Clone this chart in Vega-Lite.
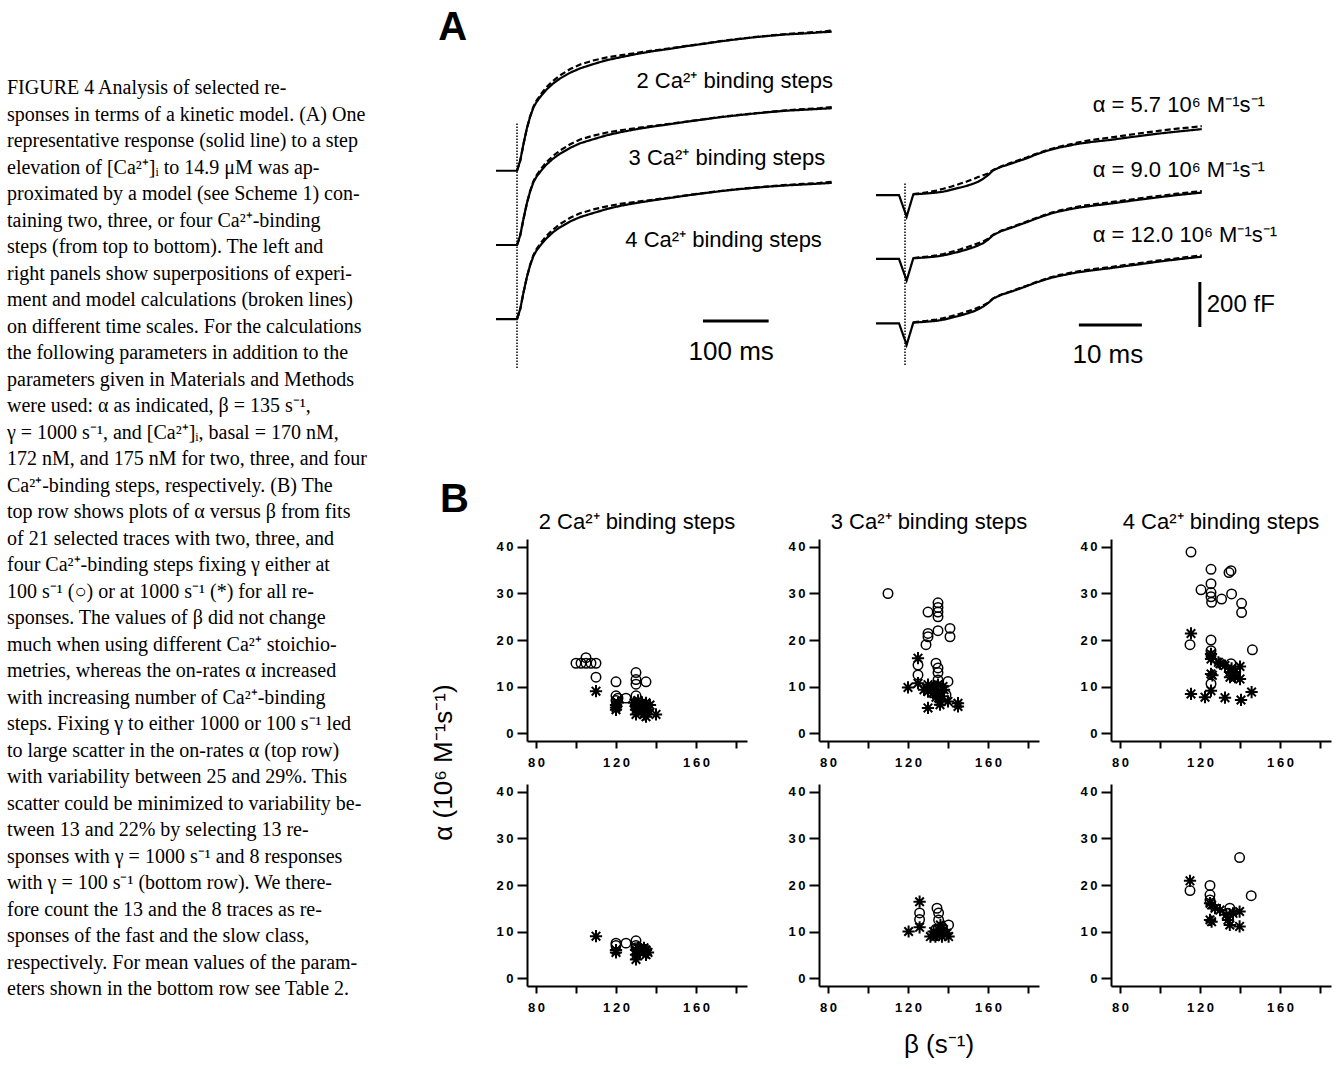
{
"$schema": "https://vega.github.io/schema/vega-lite/v6.json",
"background": "white",
"padding": 0,
"config": {
  "view": {"stroke": null},
  "font": "Liberation Sans",
  "axis": {"domainColor": "black", "domainWidth": 2, "tickColor": "black", "tickWidth": 2, "labelColor": "black", "labelFont": "Liberation Sans", "labelFontSize": 13, "labelFontWeight": "bold", "grid": false, "titleColor": "black", "titleFont": "Liberation Sans", "titleFontWeight": "normal", "labelFlush": false, "labelOverlap": false},
  "title": {"color": "black", "font": "Liberation Sans", "fontWeight": "normal"},
  "text": {"color": "black"}
},
"datasets": {
  "caption": [
    {"line": 1, "text": "FIGURE 4  Analysis of selected re-"},
    {"line": 2, "text": "sponses in terms of a kinetic model. (A) One"},
    {"line": 3, "text": "representative response (solid line) to a step"},
    {"line": 4, "text": "elevation of [Ca²⁺]ᵢ to 14.9 μM was ap-"},
    {"line": 5, "text": "proximated by a model (see Scheme 1) con-"},
    {"line": 6, "text": "taining two, three, or four Ca²⁺-binding"},
    {"line": 7, "text": "steps (from top to bottom). The left and"},
    {"line": 8, "text": "right panels show superpositions of experi-"},
    {"line": 9, "text": "ment and model calculations (broken lines)"},
    {"line": 10, "text": "on different time scales. For the calculations"},
    {"line": 11, "text": "the following parameters in addition to the"},
    {"line": 12, "text": "parameters given in Materials and Methods"},
    {"line": 13, "text": "were used: α as indicated, β = 135 s⁻¹,"},
    {"line": 14, "text": "γ = 1000 s⁻¹, and [Ca²⁺]ᵢ, basal = 170 nM,"},
    {"line": 15, "text": "172 nM, and 175 nM for two, three, and four"},
    {"line": 16, "text": "Ca²⁺-binding steps, respectively. (B) The"},
    {"line": 17, "text": "top row shows plots of α versus β from fits"},
    {"line": 18, "text": "of 21 selected traces with two, three, and"},
    {"line": 19, "text": "four Ca²⁺-binding steps fixing γ either at"},
    {"line": 20, "text": "100 s⁻¹ (○) or at 1000 s⁻¹ (*) for all re-"},
    {"line": 21, "text": "sponses. The values of β did not change"},
    {"line": 22, "text": "much when using different Ca²⁺ stoichio-"},
    {"line": 23, "text": "metries, whereas the on-rates α increased"},
    {"line": 24, "text": "with increasing number of Ca²⁺-binding"},
    {"line": 25, "text": "steps. Fixing γ to either 1000 or 100 s⁻¹ led"},
    {"line": 26, "text": "to large scatter in the on-rates α (top row)"},
    {"line": 27, "text": "with variability between 25 and 29%. This"},
    {"line": 28, "text": "scatter could be minimized to variability be-"},
    {"line": 29, "text": "tween 13 and 22% by selecting 13 re-"},
    {"line": 30, "text": "sponses with γ = 1000 s⁻¹ and 8 responses"},
    {"line": 31, "text": "with γ = 100 s⁻¹ (bottom row). We there-"},
    {"line": 32, "text": "fore count the 13 and the 8 traces as re-"},
    {"line": 33, "text": "sponses of the fast and the slow class,"},
    {"line": 34, "text": "respectively. For mean values of the param-"},
    {"line": 35, "text": "eters shown in the bottom row see Table 2."}
  ],
  "leftTraces": [
    {"s":2,"k":"experiment","t":-32,"c":659},{"s":2,"k":"experiment","t":0,"c":659},{"s":2,"k":"experiment","t":2,"c":677},{"s":2,"k":"experiment","t":5,"c":706},{"s":2,"k":"experiment","t":10,"c":780},{"s":2,"k":"experiment","t":15,"c":847},{"s":2,"k":"experiment","t":20,"c":899},{"s":2,"k":"experiment","t":25,"c":940},{"s":2,"k":"experiment","t":30,"c":966},{"s":2,"k":"experiment","t":37.5,"c":995},{"s":2,"k":"experiment","t":45,"c":1020},{"s":2,"k":"experiment","t":55,"c":1047},{"s":2,"k":"experiment","t":65,"c":1068},{"s":2,"k":"experiment","t":81,"c":1095},{"s":2,"k":"experiment","t":96,"c":1114},{"s":2,"k":"experiment","t":116,"c":1133},{"s":2,"k":"experiment","t":137,"c":1151},{"s":2,"k":"experiment","t":157,"c":1163},{"s":2,"k":"experiment","t":182,"c":1178},{"s":2,"k":"experiment","t":208,"c":1191},{"s":2,"k":"experiment","t":233,"c":1201},{"s":2,"k":"experiment","t":258,"c":1213},{"s":2,"k":"experiment","t":284,"c":1223},{"s":2,"k":"experiment","t":309,"c":1234},{"s":2,"k":"experiment","t":334,"c":1243},{"s":2,"k":"experiment","t":360,"c":1252},{"s":2,"k":"experiment","t":385,"c":1259},{"s":2,"k":"experiment","t":410,"c":1265},{"s":2,"k":"experiment","t":436,"c":1269},{"s":2,"k":"experiment","t":461,"c":1274},{"s":2,"k":"experiment","t":479,"c":1277},
    {"s":2,"k":"model","t":0,"c":659},{"s":2,"k":"model","t":2,"c":677},{"s":2,"k":"model","t":5,"c":704},{"s":2,"k":"model","t":10,"c":779},{"s":2,"k":"model","t":15,"c":847},{"s":2,"k":"model","t":20,"c":901},{"s":2,"k":"model","t":25,"c":944},{"s":2,"k":"model","t":30,"c":972},{"s":2,"k":"model","t":37.5,"c":1004},{"s":2,"k":"model","t":45,"c":1031},{"s":2,"k":"model","t":55,"c":1059},{"s":2,"k":"model","t":65,"c":1082},{"s":2,"k":"model","t":81,"c":1111},{"s":2,"k":"model","t":96,"c":1131},{"s":2,"k":"model","t":116,"c":1149},{"s":2,"k":"model","t":137,"c":1163},{"s":2,"k":"model","t":157,"c":1172},{"s":2,"k":"model","t":182,"c":1183},{"s":2,"k":"model","t":208,"c":1194},{"s":2,"k":"model","t":233,"c":1203},{"s":2,"k":"model","t":258,"c":1214},{"s":2,"k":"model","t":284,"c":1224},{"s":2,"k":"model","t":309,"c":1235},{"s":2,"k":"model","t":334,"c":1244},{"s":2,"k":"model","t":360,"c":1253},{"s":2,"k":"model","t":385,"c":1260},{"s":2,"k":"model","t":410,"c":1267},{"s":2,"k":"model","t":436,"c":1272},{"s":2,"k":"model","t":461,"c":1277},{"s":2,"k":"model","t":479,"c":1282},
    {"s":3,"k":"experiment","t":-32,"c":329},{"s":3,"k":"experiment","t":0,"c":329},{"s":3,"k":"experiment","t":2,"c":345},{"s":3,"k":"experiment","t":5,"c":374},{"s":3,"k":"experiment","t":10,"c":447},{"s":3,"k":"experiment","t":15,"c":514},{"s":3,"k":"experiment","t":20,"c":567},{"s":3,"k":"experiment","t":25,"c":608},{"s":3,"k":"experiment","t":30,"c":634},{"s":3,"k":"experiment","t":37.5,"c":662},{"s":3,"k":"experiment","t":45,"c":687},{"s":3,"k":"experiment","t":55,"c":713},{"s":3,"k":"experiment","t":65,"c":734},{"s":3,"k":"experiment","t":81,"c":761},{"s":3,"k":"experiment","t":96,"c":781},{"s":3,"k":"experiment","t":116,"c":799},{"s":3,"k":"experiment","t":137,"c":817},{"s":3,"k":"experiment","t":157,"c":830},{"s":3,"k":"experiment","t":182,"c":844},{"s":3,"k":"experiment","t":208,"c":856},{"s":3,"k":"experiment","t":233,"c":866},{"s":3,"k":"experiment","t":258,"c":877},{"s":3,"k":"experiment","t":284,"c":887},{"s":3,"k":"experiment","t":309,"c":897},{"s":3,"k":"experiment","t":334,"c":905},{"s":3,"k":"experiment","t":360,"c":913},{"s":3,"k":"experiment","t":385,"c":920},{"s":3,"k":"experiment","t":410,"c":926},{"s":3,"k":"experiment","t":436,"c":930},{"s":3,"k":"experiment","t":461,"c":934},{"s":3,"k":"experiment","t":479,"c":937},
    {"s":3,"k":"model","t":0,"c":329},{"s":3,"k":"model","t":2,"c":345},{"s":3,"k":"model","t":5,"c":372},{"s":3,"k":"model","t":10,"c":446},{"s":3,"k":"model","t":15,"c":514},{"s":3,"k":"model","t":20,"c":569},{"s":3,"k":"model","t":25,"c":612},{"s":3,"k":"model","t":30,"c":640},{"s":3,"k":"model","t":37.5,"c":671},{"s":3,"k":"model","t":45,"c":698},{"s":3,"k":"model","t":55,"c":725},{"s":3,"k":"model","t":65,"c":748},{"s":3,"k":"model","t":81,"c":777},{"s":3,"k":"model","t":96,"c":798},{"s":3,"k":"model","t":116,"c":815},{"s":3,"k":"model","t":137,"c":829},{"s":3,"k":"model","t":157,"c":839},{"s":3,"k":"model","t":182,"c":849},{"s":3,"k":"model","t":208,"c":859},{"s":3,"k":"model","t":233,"c":868},{"s":3,"k":"model","t":258,"c":878},{"s":3,"k":"model","t":284,"c":888},{"s":3,"k":"model","t":309,"c":898},{"s":3,"k":"model","t":334,"c":906},{"s":3,"k":"model","t":360,"c":914},{"s":3,"k":"model","t":385,"c":921},{"s":3,"k":"model","t":410,"c":928},{"s":3,"k":"model","t":436,"c":933},{"s":3,"k":"model","t":461,"c":937},{"s":3,"k":"model","t":479,"c":942},
    {"s":4,"k":"experiment","t":-32,"c":0},{"s":4,"k":"experiment","t":0,"c":0},{"s":4,"k":"experiment","t":2,"c":17},{"s":4,"k":"experiment","t":5,"c":46},{"s":4,"k":"experiment","t":10,"c":120},{"s":4,"k":"experiment","t":15,"c":186},{"s":4,"k":"experiment","t":20,"c":239},{"s":4,"k":"experiment","t":25,"c":280},{"s":4,"k":"experiment","t":30,"c":306},{"s":4,"k":"experiment","t":37.5,"c":334},{"s":4,"k":"experiment","t":45,"c":359},{"s":4,"k":"experiment","t":55,"c":386},{"s":4,"k":"experiment","t":65,"c":407},{"s":4,"k":"experiment","t":81,"c":434},{"s":4,"k":"experiment","t":96,"c":453},{"s":4,"k":"experiment","t":116,"c":471},{"s":4,"k":"experiment","t":137,"c":489},{"s":4,"k":"experiment","t":157,"c":503},{"s":4,"k":"experiment","t":182,"c":516},{"s":4,"k":"experiment","t":208,"c":528},{"s":4,"k":"experiment","t":233,"c":538},{"s":4,"k":"experiment","t":258,"c":549},{"s":4,"k":"experiment","t":284,"c":559},{"s":4,"k":"experiment","t":309,"c":568},{"s":4,"k":"experiment","t":334,"c":576},{"s":4,"k":"experiment","t":360,"c":583},{"s":4,"k":"experiment","t":385,"c":589},{"s":4,"k":"experiment","t":410,"c":594},{"s":4,"k":"experiment","t":436,"c":598},{"s":4,"k":"experiment","t":461,"c":602},{"s":4,"k":"experiment","t":479,"c":605},
    {"s":4,"k":"model","t":0,"c":0},{"s":4,"k":"model","t":2,"c":17},{"s":4,"k":"model","t":5,"c":44},{"s":4,"k":"model","t":10,"c":119},{"s":4,"k":"model","t":15,"c":186},{"s":4,"k":"model","t":20,"c":241},{"s":4,"k":"model","t":25,"c":284},{"s":4,"k":"model","t":30,"c":312},{"s":4,"k":"model","t":37.5,"c":343},{"s":4,"k":"model","t":45,"c":370},{"s":4,"k":"model","t":55,"c":398},{"s":4,"k":"model","t":65,"c":421},{"s":4,"k":"model","t":81,"c":450},{"s":4,"k":"model","t":96,"c":470},{"s":4,"k":"model","t":116,"c":487},{"s":4,"k":"model","t":137,"c":501},{"s":4,"k":"model","t":157,"c":512},{"s":4,"k":"model","t":182,"c":521},{"s":4,"k":"model","t":208,"c":531},{"s":4,"k":"model","t":233,"c":540},{"s":4,"k":"model","t":258,"c":550},{"s":4,"k":"model","t":284,"c":560},{"s":4,"k":"model","t":309,"c":569},{"s":4,"k":"model","t":334,"c":577},{"s":4,"k":"model","t":360,"c":584},{"s":4,"k":"model","t":385,"c":590},{"s":4,"k":"model","t":410,"c":596},{"s":4,"k":"model","t":436,"c":601},{"s":4,"k":"model","t":461,"c":605},{"s":4,"k":"model","t":479,"c":610}
  ],
  "rightTraces": [
    {"s":5.7,"k":"experiment","t":-4.6,"c":570},{"s":5.7,"k":"experiment","t":-0.95,"c":570},{"s":5.7,"k":"experiment","t":0.26,"c":474},{"s":5.7,"k":"experiment","t":1.32,"c":573},{"s":5.7,"k":"experiment","t":2.4,"c":575},{"s":5.7,"k":"experiment","t":3.44,"c":577},{"s":5.7,"k":"experiment","t":5,"c":581},{"s":5.7,"k":"experiment","t":6.1,"c":585},{"s":5.7,"k":"experiment","t":7.4,"c":594},{"s":5.7,"k":"experiment","t":8.7,"c":603},{"s":5.7,"k":"experiment","t":9.8,"c":611},{"s":5.7,"k":"experiment","t":10.9,"c":621},{"s":5.7,"k":"experiment","t":11.6,"c":629},{"s":5.7,"k":"experiment","t":12.4,"c":642},{"s":5.7,"k":"experiment","t":13.2,"c":659},{"s":5.7,"k":"experiment","t":14,"c":680},{"s":5.7,"k":"experiment","t":15.3,"c":696},{"s":5.7,"k":"experiment","t":16.7,"c":708},{"s":5.7,"k":"experiment","t":18,"c":721},{"s":5.7,"k":"experiment","t":19.3,"c":733},{"s":5.7,"k":"experiment","t":20.6,"c":748},{"s":5.7,"k":"experiment","t":22,"c":762},{"s":5.7,"k":"experiment","t":23.3,"c":773},{"s":5.7,"k":"experiment","t":24.6,"c":782},{"s":5.7,"k":"experiment","t":26,"c":789},{"s":5.7,"k":"experiment","t":27.3,"c":797},{"s":5.7,"k":"experiment","t":28.6,"c":802},{"s":5.7,"k":"experiment","t":29.9,"c":807},{"s":5.7,"k":"experiment","t":32.6,"c":815},{"s":5.7,"k":"experiment","t":35.2,"c":825},{"s":5.7,"k":"experiment","t":37.9,"c":835},{"s":5.7,"k":"experiment","t":40.5,"c":844},{"s":5.7,"k":"experiment","t":43.2,"c":852},{"s":5.7,"k":"experiment","t":47.1,"c":863},
    {"s":5.7,"k":"model","t":1.32,"c":574},{"s":5.7,"k":"model","t":2.4,"c":578},{"s":5.7,"k":"model","t":3.44,"c":582},{"s":5.7,"k":"model","t":5,"c":590},{"s":5.7,"k":"model","t":6.1,"c":598},{"s":5.7,"k":"model","t":7.4,"c":608},{"s":5.7,"k":"model","t":8.7,"c":620},{"s":5.7,"k":"model","t":9.8,"c":630},{"s":5.7,"k":"model","t":10.9,"c":642},{"s":5.7,"k":"model","t":11.6,"c":650},{"s":5.7,"k":"model","t":12.4,"c":658},{"s":5.7,"k":"model","t":13.2,"c":666},{"s":5.7,"k":"model","t":14,"c":682},{"s":5.7,"k":"model","t":15.3,"c":698},{"s":5.7,"k":"model","t":16.7,"c":712},{"s":5.7,"k":"model","t":18,"c":725},{"s":5.7,"k":"model","t":19.3,"c":737},{"s":5.7,"k":"model","t":20.6,"c":751},{"s":5.7,"k":"model","t":22,"c":765},{"s":5.7,"k":"model","t":23.3,"c":776},{"s":5.7,"k":"model","t":24.6,"c":786},{"s":5.7,"k":"model","t":26,"c":794},{"s":5.7,"k":"model","t":27.3,"c":803},{"s":5.7,"k":"model","t":28.6,"c":810},{"s":5.7,"k":"model","t":29.9,"c":816},{"s":5.7,"k":"model","t":32.6,"c":826},{"s":5.7,"k":"model","t":35.2,"c":836},{"s":5.7,"k":"model","t":37.9,"c":847},{"s":5.7,"k":"model","t":40.5,"c":856},{"s":5.7,"k":"model","t":43.2,"c":865},{"s":5.7,"k":"model","t":47.1,"c":876},
    {"s":9,"k":"experiment","t":-4.6,"c":286},{"s":9,"k":"experiment","t":-0.95,"c":286},{"s":9,"k":"experiment","t":0.26,"c":190},{"s":9,"k":"experiment","t":1.32,"c":289},{"s":9,"k":"experiment","t":2.4,"c":291},{"s":9,"k":"experiment","t":3.44,"c":293},{"s":9,"k":"experiment","t":5,"c":297},{"s":9,"k":"experiment","t":6.1,"c":302},{"s":9,"k":"experiment","t":7.4,"c":310},{"s":9,"k":"experiment","t":8.7,"c":319},{"s":9,"k":"experiment","t":9.8,"c":328},{"s":9,"k":"experiment","t":10.9,"c":338},{"s":9,"k":"experiment","t":11.6,"c":346},{"s":9,"k":"experiment","t":12.4,"c":356},{"s":9,"k":"experiment","t":13.2,"c":372},{"s":9,"k":"experiment","t":14,"c":392},{"s":9,"k":"experiment","t":15.3,"c":410},{"s":9,"k":"experiment","t":16.7,"c":423},{"s":9,"k":"experiment","t":18,"c":436},{"s":9,"k":"experiment","t":19.3,"c":449},{"s":9,"k":"experiment","t":20.6,"c":463},{"s":9,"k":"experiment","t":22,"c":477},{"s":9,"k":"experiment","t":23.3,"c":489},{"s":9,"k":"experiment","t":24.6,"c":498},{"s":9,"k":"experiment","t":26,"c":506},{"s":9,"k":"experiment","t":27.3,"c":513},{"s":9,"k":"experiment","t":28.6,"c":518},{"s":9,"k":"experiment","t":29.9,"c":523},{"s":9,"k":"experiment","t":32.6,"c":532},{"s":9,"k":"experiment","t":35.2,"c":542},{"s":9,"k":"experiment","t":37.9,"c":552},{"s":9,"k":"experiment","t":40.5,"c":561},{"s":9,"k":"experiment","t":43.2,"c":570},{"s":9,"k":"experiment","t":47.1,"c":581},
    {"s":9,"k":"model","t":1.32,"c":290},{"s":9,"k":"model","t":2.4,"c":293},{"s":9,"k":"model","t":3.44,"c":296},{"s":9,"k":"model","t":5,"c":302},{"s":9,"k":"model","t":6.1,"c":308},{"s":9,"k":"model","t":7.4,"c":318},{"s":9,"k":"model","t":8.7,"c":328},{"s":9,"k":"model","t":9.8,"c":338},{"s":9,"k":"model","t":10.9,"c":348},{"s":9,"k":"model","t":11.6,"c":356},{"s":9,"k":"model","t":12.4,"c":364},{"s":9,"k":"model","t":13.2,"c":376},{"s":9,"k":"model","t":14,"c":394},{"s":9,"k":"model","t":15.3,"c":412},{"s":9,"k":"model","t":16.7,"c":426},{"s":9,"k":"model","t":18,"c":439},{"s":9,"k":"model","t":19.3,"c":452},{"s":9,"k":"model","t":20.6,"c":466},{"s":9,"k":"model","t":22,"c":480},{"s":9,"k":"model","t":23.3,"c":492},{"s":9,"k":"model","t":24.6,"c":502},{"s":9,"k":"model","t":26,"c":510},{"s":9,"k":"model","t":27.3,"c":518},{"s":9,"k":"model","t":28.6,"c":524},{"s":9,"k":"model","t":29.9,"c":529},{"s":9,"k":"model","t":32.6,"c":538},{"s":9,"k":"model","t":35.2,"c":548},{"s":9,"k":"model","t":37.9,"c":558},{"s":9,"k":"model","t":40.5,"c":567},{"s":9,"k":"model","t":43.2,"c":576},{"s":9,"k":"model","t":47.1,"c":588},
    {"s":12,"k":"experiment","t":-4.6,"c":0},{"s":12,"k":"experiment","t":-0.95,"c":0},{"s":12,"k":"experiment","t":0.26,"c":-96},{"s":12,"k":"experiment","t":1.32,"c":3},{"s":12,"k":"experiment","t":2.4,"c":5},{"s":12,"k":"experiment","t":3.44,"c":7},{"s":12,"k":"experiment","t":5,"c":11},{"s":12,"k":"experiment","t":6.1,"c":16},{"s":12,"k":"experiment","t":7.4,"c":25},{"s":12,"k":"experiment","t":8.7,"c":34},{"s":12,"k":"experiment","t":9.8,"c":43},{"s":12,"k":"experiment","t":10.9,"c":53},{"s":12,"k":"experiment","t":11.6,"c":62},{"s":12,"k":"experiment","t":12.4,"c":74},{"s":12,"k":"experiment","t":13.2,"c":90},{"s":12,"k":"experiment","t":14,"c":110},{"s":12,"k":"experiment","t":15.3,"c":127},{"s":12,"k":"experiment","t":16.7,"c":139},{"s":12,"k":"experiment","t":18,"c":152},{"s":12,"k":"experiment","t":19.3,"c":165},{"s":12,"k":"experiment","t":20.6,"c":179},{"s":12,"k":"experiment","t":22,"c":192},{"s":12,"k":"experiment","t":23.3,"c":203},{"s":12,"k":"experiment","t":24.6,"c":211},{"s":12,"k":"experiment","t":26,"c":219},{"s":12,"k":"experiment","t":27.3,"c":226},{"s":12,"k":"experiment","t":28.6,"c":231},{"s":12,"k":"experiment","t":29.9,"c":236},{"s":12,"k":"experiment","t":32.6,"c":245},{"s":12,"k":"experiment","t":35.2,"c":255},{"s":12,"k":"experiment","t":37.9,"c":265},{"s":12,"k":"experiment","t":40.5,"c":275},{"s":12,"k":"experiment","t":43.2,"c":284},{"s":12,"k":"experiment","t":47.1,"c":296},
    {"s":12,"k":"model","t":1.32,"c":4},{"s":12,"k":"model","t":2.4,"c":8},{"s":12,"k":"model","t":3.44,"c":11},{"s":12,"k":"model","t":5,"c":17},{"s":12,"k":"model","t":6.1,"c":23},{"s":12,"k":"model","t":7.4,"c":32},{"s":12,"k":"model","t":8.7,"c":42},{"s":12,"k":"model","t":9.8,"c":52},{"s":12,"k":"model","t":10.9,"c":62},{"s":12,"k":"model","t":11.6,"c":70},{"s":12,"k":"model","t":12.4,"c":79},{"s":12,"k":"model","t":13.2,"c":92},{"s":12,"k":"model","t":14,"c":111},{"s":12,"k":"model","t":15.3,"c":128},{"s":12,"k":"model","t":16.7,"c":141},{"s":12,"k":"model","t":18,"c":154},{"s":12,"k":"model","t":19.3,"c":167},{"s":12,"k":"model","t":20.6,"c":181},{"s":12,"k":"model","t":22,"c":194},{"s":12,"k":"model","t":23.3,"c":206},{"s":12,"k":"model","t":24.6,"c":215},{"s":12,"k":"model","t":26,"c":223},{"s":12,"k":"model","t":27.3,"c":230},{"s":12,"k":"model","t":28.6,"c":236},{"s":12,"k":"model","t":29.9,"c":241},{"s":12,"k":"model","t":32.6,"c":250},{"s":12,"k":"model","t":35.2,"c":260},{"s":12,"k":"model","t":37.9,"c":270},{"s":12,"k":"model","t":40.5,"c":280},{"s":12,"k":"model","t":43.2,"c":289},{"s":12,"k":"model","t":47.1,"c":302}
  ],
  "scatter": [
    {"m":2,"r":"all","g":100,"b":100,"a":15},{"m":2,"r":"all","g":100,"b":102.5,"a":15},{"m":2,"r":"all","g":100,"b":105,"a":16.2},{"m":2,"r":"all","g":100,"b":105,"a":15},{"m":2,"r":"all","g":100,"b":107.5,"a":15},{"m":2,"r":"all","g":100,"b":110,"a":15},{"m":2,"r":"all","g":100,"b":110,"a":12},{"m":2,"r":"all","g":100,"b":120,"a":11},{"m":2,"r":"all","g":100,"b":120,"a":8},{"m":2,"r":"all","g":100,"b":120,"a":7},{"m":2,"r":"all","g":100,"b":125,"a":7.5},{"m":2,"r":"all","g":100,"b":130,"a":13},{"m":2,"r":"all","g":100,"b":130,"a":11.5},{"m":2,"r":"all","g":100,"b":130,"a":10.5},{"m":2,"r":"all","g":100,"b":130,"a":8},{"m":2,"r":"all","g":100,"b":130,"a":6.5},{"m":2,"r":"all","g":100,"b":135,"a":11},{"m":2,"r":"all","g":100,"b":130,"a":5.5},{"m":2,"r":"all","g":100,"b":133,"a":6},{"m":2,"r":"all","g":100,"b":135,"a":5},{"m":2,"r":"all","g":100,"b":121,"a":7.5},
    {"m":2,"r":"all","g":1000,"b":110,"a":9},{"m":2,"r":"all","g":1000,"b":120,"a":6},{"m":2,"r":"all","g":1000,"b":120,"a":5.5},{"m":2,"r":"all","g":1000,"b":120,"a":5},{"m":2,"r":"all","g":1000,"b":121,"a":6.5},{"m":2,"r":"all","g":1000,"b":130,"a":4},{"m":2,"r":"all","g":1000,"b":130,"a":6},{"m":2,"r":"all","g":1000,"b":130,"a":5},{"m":2,"r":"all","g":1000,"b":131,"a":7},{"m":2,"r":"all","g":1000,"b":132,"a":5.5},{"m":2,"r":"all","g":1000,"b":133,"a":5},{"m":2,"r":"all","g":1000,"b":133,"a":6.5},{"m":2,"r":"all","g":1000,"b":134,"a":4},{"m":2,"r":"all","g":1000,"b":135,"a":3.5},{"m":2,"r":"all","g":1000,"b":135,"a":4.5},{"m":2,"r":"all","g":1000,"b":135,"a":5.5},{"m":2,"r":"all","g":1000,"b":135,"a":6.5},{"m":2,"r":"all","g":1000,"b":136,"a":5},{"m":2,"r":"all","g":1000,"b":137,"a":6},{"m":2,"r":"all","g":1000,"b":140,"a":4},{"m":2,"r":"all","g":1000,"b":129,"a":6.5},
    {"m":2,"r":"sel","g":100,"b":120,"a":7.5},{"m":2,"r":"sel","g":100,"b":120,"a":7},{"m":2,"r":"sel","g":100,"b":125,"a":7.5},{"m":2,"r":"sel","g":100,"b":130,"a":8},{"m":2,"r":"sel","g":100,"b":130,"a":7},{"m":2,"r":"sel","g":100,"b":130,"a":6.5},{"m":2,"r":"sel","g":100,"b":133,"a":6},{"m":2,"r":"sel","g":100,"b":135,"a":6},
    {"m":2,"r":"sel","g":1000,"b":110,"a":9},{"m":2,"r":"sel","g":1000,"b":120,"a":6},{"m":2,"r":"sel","g":1000,"b":120,"a":5.5},{"m":2,"r":"sel","g":1000,"b":130,"a":4},{"m":2,"r":"sel","g":1000,"b":130,"a":6},{"m":2,"r":"sel","g":1000,"b":130,"a":5},{"m":2,"r":"sel","g":1000,"b":132,"a":5.5},{"m":2,"r":"sel","g":1000,"b":133,"a":6},{"m":2,"r":"sel","g":1000,"b":135,"a":5},{"m":2,"r":"sel","g":1000,"b":135,"a":6},{"m":2,"r":"sel","g":1000,"b":136,"a":5.5},{"m":2,"r":"sel","g":1000,"b":134,"a":6.5},{"m":2,"r":"sel","g":1000,"b":131,"a":6.5},
    {"m":3,"r":"all","g":100,"b":110,"a":30},{"m":3,"r":"all","g":100,"b":130,"a":26},{"m":3,"r":"all","g":100,"b":135,"a":28},{"m":3,"r":"all","g":100,"b":135,"a":27},{"m":3,"r":"all","g":100,"b":135,"a":26},{"m":3,"r":"all","g":100,"b":135,"a":25},{"m":3,"r":"all","g":100,"b":135,"a":22},{"m":3,"r":"all","g":100,"b":141,"a":22.5},{"m":3,"r":"all","g":100,"b":141,"a":20.7},{"m":3,"r":"all","g":100,"b":130,"a":21.4},{"m":3,"r":"all","g":100,"b":130,"a":20.7},{"m":3,"r":"all","g":100,"b":129,"a":19},{"m":3,"r":"all","g":100,"b":125,"a":14.6},{"m":3,"r":"all","g":100,"b":125,"a":12.5},{"m":3,"r":"all","g":100,"b":134,"a":15},{"m":3,"r":"all","g":100,"b":135,"a":14},{"m":3,"r":"all","g":100,"b":135,"a":13},{"m":3,"r":"all","g":100,"b":140,"a":11.1},{"m":3,"r":"all","g":100,"b":134,"a":10},{"m":3,"r":"all","g":100,"b":135,"a":11.4},{"m":3,"r":"all","g":100,"b":139,"a":8.2},
    {"m":3,"r":"all","g":1000,"b":120,"a":9.8},{"m":3,"r":"all","g":1000,"b":125,"a":16.1},{"m":3,"r":"all","g":1000,"b":125,"a":10.7},{"m":3,"r":"all","g":1000,"b":130,"a":10.4},{"m":3,"r":"all","g":1000,"b":130,"a":8.9},{"m":3,"r":"all","g":1000,"b":130,"a":5.4},{"m":3,"r":"all","g":1000,"b":134,"a":10},{"m":3,"r":"all","g":1000,"b":135,"a":8.6},{"m":3,"r":"all","g":1000,"b":136,"a":6.8},{"m":3,"r":"all","g":1000,"b":136,"a":6.1},{"m":3,"r":"all","g":1000,"b":138,"a":9.3},{"m":3,"r":"all","g":1000,"b":140,"a":6.8},{"m":3,"r":"all","g":1000,"b":145,"a":5.7},{"m":3,"r":"all","g":1000,"b":132.5,"a":8.6},{"m":3,"r":"all","g":1000,"b":137.5,"a":10},{"m":3,"r":"all","g":1000,"b":128,"a":9.3},{"m":3,"r":"all","g":1000,"b":135,"a":10.4},{"m":3,"r":"all","g":1000,"b":134,"a":7.7},{"m":3,"r":"all","g":1000,"b":131.7,"a":9.6},{"m":3,"r":"all","g":1000,"b":145,"a":6.4},{"m":3,"r":"all","g":1000,"b":136.7,"a":7.9},
    {"m":3,"r":"sel","g":100,"b":125.8,"a":14},{"m":3,"r":"sel","g":100,"b":125.8,"a":12.6},{"m":3,"r":"sel","g":100,"b":134.5,"a":15},{"m":3,"r":"sel","g":100,"b":135.3,"a":14},{"m":3,"r":"sel","g":100,"b":135.3,"a":12.5},{"m":3,"r":"sel","g":100,"b":140.3,"a":11.4},{"m":3,"r":"sel","g":100,"b":137,"a":11},{"m":3,"r":"sel","g":100,"b":134,"a":10.5},
    {"m":3,"r":"sel","g":1000,"b":125.8,"a":16.4},{"m":3,"r":"sel","g":1000,"b":120.3,"a":10},{"m":3,"r":"sel","g":1000,"b":125.8,"a":10.9},{"m":3,"r":"sel","g":1000,"b":131.2,"a":8.9},{"m":3,"r":"sel","g":1000,"b":134.5,"a":9.3},{"m":3,"r":"sel","g":1000,"b":135.3,"a":10.4},{"m":3,"r":"sel","g":1000,"b":137,"a":8.9},{"m":3,"r":"sel","g":1000,"b":140.3,"a":8.9},{"m":3,"r":"sel","g":1000,"b":132.8,"a":10},{"m":3,"r":"sel","g":1000,"b":137.8,"a":10.4},{"m":3,"r":"sel","g":1000,"b":136.2,"a":11.4},{"m":3,"r":"sel","g":1000,"b":133.7,"a":8.9},{"m":3,"r":"sel","g":1000,"b":139.5,"a":9.6},
    {"m":4,"r":"all","g":100,"b":115.5,"a":38.9},{"m":4,"r":"all","g":100,"b":125.5,"a":35.2},{"m":4,"r":"all","g":100,"b":125.5,"a":32.1},{"m":4,"r":"all","g":100,"b":120.5,"a":30.8},{"m":4,"r":"all","g":100,"b":125.5,"a":30.2},{"m":4,"r":"all","g":100,"b":125.5,"a":29.3},{"m":4,"r":"all","g":100,"b":125.8,"a":28.1},{"m":4,"r":"all","g":100,"b":130.8,"a":28.8},{"m":4,"r":"all","g":100,"b":134.5,"a":34.5},{"m":4,"r":"all","g":100,"b":135.5,"a":34.9},{"m":4,"r":"all","g":100,"b":135.8,"a":29.9},{"m":4,"r":"all","g":100,"b":140.8,"a":27.9},{"m":4,"r":"all","g":100,"b":140.8,"a":25.9},{"m":4,"r":"all","g":100,"b":115,"a":19},{"m":4,"r":"all","g":100,"b":125.5,"a":20},{"m":4,"r":"all","g":100,"b":125.5,"a":17.7},{"m":4,"r":"all","g":100,"b":125.5,"a":16.6},{"m":4,"r":"all","g":100,"b":125.5,"a":10.6},{"m":4,"r":"all","g":100,"b":135.5,"a":14.9},{"m":4,"r":"all","g":100,"b":146.2,"a":17.9},{"m":4,"r":"all","g":100,"b":135,"a":13.4},
    {"m":4,"r":"all","g":1000,"b":115.5,"a":21.4},{"m":4,"r":"all","g":1000,"b":115.5,"a":8.4},{"m":4,"r":"all","g":1000,"b":122.5,"a":7.7},{"m":4,"r":"all","g":1000,"b":125.5,"a":9.1},{"m":4,"r":"all","g":1000,"b":125.5,"a":12.7},{"m":4,"r":"all","g":1000,"b":125.5,"a":15.9},{"m":4,"r":"all","g":1000,"b":125.5,"a":17},{"m":4,"r":"all","g":1000,"b":130,"a":14.9},{"m":4,"r":"all","g":1000,"b":132.5,"a":7.6},{"m":4,"r":"all","g":1000,"b":135,"a":13.1},{"m":4,"r":"all","g":1000,"b":135,"a":12},{"m":4,"r":"all","g":1000,"b":137.5,"a":13.1},{"m":4,"r":"all","g":1000,"b":140,"a":14.3},{"m":4,"r":"all","g":1000,"b":140,"a":11.6},{"m":4,"r":"all","g":1000,"b":140.5,"a":7.1},{"m":4,"r":"all","g":1000,"b":145.8,"a":8.8},{"m":4,"r":"all","g":1000,"b":135.8,"a":13.9},{"m":4,"r":"all","g":1000,"b":132.5,"a":14.5},{"m":4,"r":"all","g":1000,"b":129.2,"a":15.2},{"m":4,"r":"all","g":1000,"b":137.5,"a":12},{"m":4,"r":"all","g":1000,"b":126.2,"a":12.4},
    {"m":4,"r":"sel","g":100,"b":115,"a":18.8},{"m":4,"r":"sel","g":100,"b":125,"a":19.9},{"m":4,"r":"sel","g":100,"b":125,"a":17.9},{"m":4,"r":"sel","g":100,"b":125,"a":16.8},{"m":4,"r":"sel","g":100,"b":139.8,"a":25.9},{"m":4,"r":"sel","g":100,"b":145.6,"a":17.7},{"m":4,"r":"sel","g":100,"b":134.9,"a":15},{"m":4,"r":"sel","g":100,"b":134,"a":13.9},
    {"m":4,"r":"sel","g":1000,"b":115,"a":20.9},{"m":4,"r":"sel","g":1000,"b":125,"a":16.1},{"m":4,"r":"sel","g":1000,"b":125,"a":12.5},{"m":4,"r":"sel","g":1000,"b":125.8,"a":12.1},{"m":4,"r":"sel","g":1000,"b":130,"a":14.6},{"m":4,"r":"sel","g":1000,"b":134,"a":12.5},{"m":4,"r":"sel","g":1000,"b":134.9,"a":11.4},{"m":4,"r":"sel","g":1000,"b":139.8,"a":14.3},{"m":4,"r":"sel","g":1000,"b":139.8,"a":11.1},{"m":4,"r":"sel","g":1000,"b":133.2,"a":13.6},{"m":4,"r":"sel","g":1000,"b":136.5,"a":13.9},{"m":4,"r":"sel","g":1000,"b":127.5,"a":15},{"m":4,"r":"sel","g":1000,"b":125.8,"a":15.7}
  ]
},
"hconcat": [
  {
    "width": 420, "height": 1069,
    "data": {"name": "caption"},
    "mark": {"type": "text", "align": "left", "baseline": "alphabetic", "font": "Liberation Serif", "fontSize": 20, "color": "black"},
    "encoding": {
      "x": {"datum": 0, "type": "quantitative", "scale": {"domain": [-7, 413], "nice": false, "zero": false}, "axis": null},
      "y": {"field": "line", "type": "quantitative", "scale": {"domain": [-2.547, 37.79], "reverse": true, "nice": false, "zero": false}, "axis": null},
      "text": {"field": "text"}
    }
  },
  {
    "spacing": 100,
    "vconcat": [
      {
        "spacing": 0,
        "hconcat": [
          {
            "width": 323, "height": 380,
            "encoding": {
              "x": {"field": "t", "type": "quantitative", "scale": {"domain": [15.22, 506.8], "nice": false, "zero": false}, "axis": null},
              "y": {"field": "c", "type": "quantitative", "scale": {"domain": [-271, 1418], "nice": false, "zero": false}, "axis": null}
            },
            "layer": [
              {"data": {"name": "leftTraces"}, "mark": {"type": "line", "color": "black", "strokeWidth": 2.2, "clip": false},
               "encoding": {"detail": {"field": "s", "type": "nominal"}, "strokeDash": {"field": "k", "type": "nominal", "scale": {"domain": ["experiment", "model"], "range": [[1, 0], [6, 3]]}, "legend": null}}},
              {"data": {"values": [{"t": 0, "c": -218, "c2": 876}]}, "mark": {"type": "rule", "color": "black", "strokeWidth": 1.5, "strokeDash": [1.5, 1.5], "clip": false}, "encoding": {"y2": {"field": "c2"}}},
              {"data": {"values": [{"t": 283, "t2": 383, "c": -9}]}, "mark": {"type": "rule", "color": "black", "strokeWidth": 3}, "encoding": {"x2": {"field": "t2"}}},
              {"data": {"values": [{"t": 481, "c": 1027, "label": "2 Ca²⁺ binding steps"}, {"t": 469, "c": 684, "label": "3 Ca²⁺ binding steps"}, {"t": 464, "c": 320, "label": "4 Ca²⁺ binding steps"}]},
               "mark": {"type": "text", "align": "right", "baseline": "alphabetic", "fontSize": 22, "font": "Liberation Sans", "color": "black"}, "encoding": {"text": {"field": "label"}}},
              {"data": {"values": [{"t": 326, "c": -182, "label": "100 ms"}]}, "mark": {"type": "text", "align": "center", "baseline": "alphabetic", "fontSize": 26, "font": "Liberation Sans", "color": "black"}, "encoding": {"text": {"field": "label"}}},
              {"data": {"values": [{"t": -120, "c": 1240, "label": "A"}]}, "mark": {"type": "text", "align": "left", "baseline": "alphabetic", "fontSize": 40, "fontWeight": "bold", "font": "Liberation Sans", "color": "black", "clip": false}, "encoding": {"text": {"field": "label"}}}
            ]
          },
          {
            "width": 489, "height": 380,
            "encoding": {
              "x": {"field": "t", "type": "quantitative", "scale": {"domain": [-8.73, 68.89], "nice": false, "zero": false}, "axis": null},
              "y": {"field": "c", "type": "quantitative", "scale": {"domain": [-252, 1437], "nice": false, "zero": false}, "axis": null}
            },
            "layer": [
              {"data": {"name": "rightTraces"}, "mark": {"type": "line", "color": "black", "strokeWidth": 2.2},
               "encoding": {"detail": {"field": "s", "type": "nominal"}, "strokeDash": {"field": "k", "type": "nominal", "scale": {"domain": ["experiment", "model"], "range": [[1, 0], [6, 3]]}, "legend": null}}},
              {"data": {"values": [{"t": 0, "c": -185, "c2": 628}]}, "mark": {"type": "rule", "color": "black", "strokeWidth": 1.5, "strokeDash": [1.5, 1.5]}, "encoding": {"y2": {"field": "c2"}}},
              {"data": {"values": [{"t": 27.6, "t2": 37.6, "c": -7.5, "c2": -7.5}, {"t": 46.8, "t2": 46.8, "c": -16.4, "c2": 183.6}]}, "mark": {"type": "rule", "color": "black", "strokeWidth": 3}, "encoding": {"x2": {"field": "t2"}, "y2": {"field": "c2"}}},
              {"data": {"values": [{"t": 29.8, "c": 939, "label": "α = 5.7  10⁶ M⁻¹s⁻¹"}, {"t": 29.8, "c": 650, "label": "α = 9.0  10⁶ M⁻¹s⁻¹"}, {"t": 29.8, "c": 361, "label": "α = 12.0  10⁶ M⁻¹s⁻¹"}]},
               "mark": {"type": "text", "align": "left", "baseline": "alphabetic", "fontSize": 22, "font": "Liberation Sans", "color": "black"}, "encoding": {"text": {"field": "label"}}},
              {"data": {"values": [{"t": 32.2, "c": -176, "label": "10 ms"}]}, "mark": {"type": "text", "align": "center", "baseline": "alphabetic", "fontSize": 26, "font": "Liberation Sans", "color": "black"}, "encoding": {"text": {"field": "label"}}},
              {"data": {"values": [{"t": 47.9, "c": 50, "label": "200 fF"}]}, "mark": {"type": "text", "align": "left", "baseline": "alphabetic", "fontSize": 24, "font": "Liberation Sans", "color": "black"}, "encoding": {"text": {"field": "label"}}}
            ]
          }
        ]
      },
      {
        "title": {"text": "B", "anchor": "start", "frame": "bounds", "fontSize": 40, "fontWeight": "bold", "baseline": "alphabetic", "offset": -41, "dx": 10},
        "data": {"name": "scatter"},
        "columns": 3,
        "bounds": "flush",
        "spacing": {"row": 43, "column": 72},
        "concat": [
          {
            "width": 220, "height": 202,
            "title": {"text": "2 Ca²⁺ binding steps", "fontSize": 22, "anchor": "middle", "frame": "group", "baseline": "alphabetic", "offset": -12},
            "transform": [{"filter": "datum.m == 2 && datum.r == 'all'"}],
            "encoding": {
              "x": {"field": "b", "type": "quantitative", "scale": {"domain": [75.5, 185.5], "nice": false, "zero": false}, "axis": {"values": [80, 100, 120, 140, 160, 180], "tickSize": 7, "labelPadding": 8, "labelExpr": "datum.value % 40 == 0 ? join(split(datum.label, ''), '\u2009') : ''", "title": null}},
              "y": {"field": "a", "type": "quantitative", "scale": {"domain": [-1.72, 41.72], "nice": false, "zero": false}, "axis": {"values": [0, 10, 20, 30, 40], "tickSize": 10, "labelPadding": 4, "labelExpr": "join(split(datum.label, ''), '\u2009')", "title": "α (10⁶ M⁻¹s⁻¹)", "titleX": -84, "titleY": 223, "titleAngle": 270, "titleAlign": "center", "titleBaseline": "middle", "titleFontSize": 26}}
            },
            "layer": [
              {"transform": [{"filter": "datum.g == 100"}], "mark": {"type": "point", "shape": "circle", "filled": false, "size": 90, "strokeWidth": 1.5, "color": "black", "opacity": 1}},
              {"transform": [{"filter": "datum.g == 1000"}], "mark": {"type": "point", "shape": "M-1,0L1,0M0,-1L0,1M-0.7,-0.7L0.7,0.7M-0.7,0.7L0.7,-0.7", "filled": false, "size": 150, "strokeWidth": 2, "color": "black", "opacity": 1}}
            ]
          },
          {
            "width": 220, "height": 202,
            "title": {"text": "3 Ca²⁺ binding steps", "fontSize": 22, "anchor": "middle", "frame": "group", "baseline": "alphabetic", "offset": -12},
            "transform": [{"filter": "datum.m == 3 && datum.r == 'all'"}],
            "encoding": {
              "x": {"field": "b", "type": "quantitative", "scale": {"domain": [75.5, 185.5], "nice": false, "zero": false}, "axis": {"values": [80, 100, 120, 140, 160, 180], "tickSize": 7, "labelPadding": 8, "labelExpr": "datum.value % 40 == 0 ? join(split(datum.label, ''), '\u2009') : ''", "title": null}},
              "y": {"field": "a", "type": "quantitative", "scale": {"domain": [-1.72, 41.72], "nice": false, "zero": false}, "axis": {"values": [0, 10, 20, 30, 40], "tickSize": 10, "labelPadding": 4, "labelExpr": "join(split(datum.label, ''), '\u2009')", "title": null}}
            },
            "layer": [
              {"transform": [{"filter": "datum.g == 100"}], "mark": {"type": "point", "shape": "circle", "filled": false, "size": 90, "strokeWidth": 1.5, "color": "black", "opacity": 1}},
              {"transform": [{"filter": "datum.g == 1000"}], "mark": {"type": "point", "shape": "M-1,0L1,0M0,-1L0,1M-0.7,-0.7L0.7,0.7M-0.7,0.7L0.7,-0.7", "filled": false, "size": 150, "strokeWidth": 2, "color": "black", "opacity": 1}}
            ]
          },
          {
            "width": 220, "height": 202,
            "title": {"text": "4 Ca²⁺ binding steps", "fontSize": 22, "anchor": "middle", "frame": "group", "baseline": "alphabetic", "offset": -12},
            "transform": [{"filter": "datum.m == 4 && datum.r == 'all'"}],
            "encoding": {
              "x": {"field": "b", "type": "quantitative", "scale": {"domain": [75.5, 185.5], "nice": false, "zero": false}, "axis": {"values": [80, 100, 120, 140, 160, 180], "tickSize": 7, "labelPadding": 8, "labelExpr": "datum.value % 40 == 0 ? join(split(datum.label, ''), '\u2009') : ''", "title": null}},
              "y": {"field": "a", "type": "quantitative", "scale": {"domain": [-1.72, 41.72], "nice": false, "zero": false}, "axis": {"values": [0, 10, 20, 30, 40], "tickSize": 10, "labelPadding": 4, "labelExpr": "join(split(datum.label, ''), '\u2009')", "title": null}}
            },
            "layer": [
              {"transform": [{"filter": "datum.g == 100"}], "mark": {"type": "point", "shape": "circle", "filled": false, "size": 90, "strokeWidth": 1.5, "color": "black", "opacity": 1}},
              {"transform": [{"filter": "datum.g == 1000"}], "mark": {"type": "point", "shape": "M-1,0L1,0M0,-1L0,1M-0.7,-0.7L0.7,0.7M-0.7,0.7L0.7,-0.7", "filled": false, "size": 150, "strokeWidth": 2, "color": "black", "opacity": 1}}
            ]
          },
          {
            "width": 220, "height": 202,
            "transform": [{"filter": "datum.m == 2 && datum.r == 'sel'"}],
            "encoding": {
              "x": {"field": "b", "type": "quantitative", "scale": {"domain": [75.5, 185.5], "nice": false, "zero": false}, "axis": {"values": [80, 100, 120, 140, 160, 180], "tickSize": 7, "labelPadding": 8, "labelExpr": "datum.value % 40 == 0 ? join(split(datum.label, ''), '\u2009') : ''", "title": null}},
              "y": {"field": "a", "type": "quantitative", "scale": {"domain": [-1.72, 41.72], "nice": false, "zero": false}, "axis": {"values": [0, 10, 20, 30, 40], "tickSize": 10, "labelPadding": 4, "labelExpr": "join(split(datum.label, ''), '\u2009')", "title": null}}
            },
            "layer": [
              {"transform": [{"filter": "datum.g == 100"}], "mark": {"type": "point", "shape": "circle", "filled": false, "size": 90, "strokeWidth": 1.5, "color": "black", "opacity": 1}},
              {"transform": [{"filter": "datum.g == 1000"}], "mark": {"type": "point", "shape": "M-1,0L1,0M0,-1L0,1M-0.7,-0.7L0.7,0.7M-0.7,0.7L0.7,-0.7", "filled": false, "size": 150, "strokeWidth": 2, "color": "black", "opacity": 1}}
            ]
          },
          {
            "width": 220, "height": 202,
            "transform": [{"filter": "datum.m == 3 && datum.r == 'sel'"}],
            "encoding": {
              "x": {"field": "b", "type": "quantitative", "scale": {"domain": [75.5, 185.5], "nice": false, "zero": false}, "axis": {"values": [80, 100, 120, 140, 160, 180], "tickSize": 7, "labelPadding": 8, "labelExpr": "datum.value % 40 == 0 ? join(split(datum.label, ''), '\u2009') : ''", "title": "β (s⁻¹)", "titleX": 119.5, "titleY": 66, "titleAlign": "center", "titleBaseline": "alphabetic", "titleFontSize": 26}},
              "y": {"field": "a", "type": "quantitative", "scale": {"domain": [-1.72, 41.72], "nice": false, "zero": false}, "axis": {"values": [0, 10, 20, 30, 40], "tickSize": 10, "labelPadding": 4, "labelExpr": "join(split(datum.label, ''), '\u2009')", "title": null}}
            },
            "layer": [
              {"transform": [{"filter": "datum.g == 100"}], "mark": {"type": "point", "shape": "circle", "filled": false, "size": 90, "strokeWidth": 1.5, "color": "black", "opacity": 1}},
              {"transform": [{"filter": "datum.g == 1000"}], "mark": {"type": "point", "shape": "M-1,0L1,0M0,-1L0,1M-0.7,-0.7L0.7,0.7M-0.7,0.7L0.7,-0.7", "filled": false, "size": 150, "strokeWidth": 2, "color": "black", "opacity": 1}}
            ]
          },
          {
            "width": 220, "height": 202,
            "transform": [{"filter": "datum.m == 4 && datum.r == 'sel'"}],
            "encoding": {
              "x": {"field": "b", "type": "quantitative", "scale": {"domain": [75.5, 185.5], "nice": false, "zero": false}, "axis": {"values": [80, 100, 120, 140, 160, 180], "tickSize": 7, "labelPadding": 8, "labelExpr": "datum.value % 40 == 0 ? join(split(datum.label, ''), '\u2009') : ''", "title": null}},
              "y": {"field": "a", "type": "quantitative", "scale": {"domain": [-1.72, 41.72], "nice": false, "zero": false}, "axis": {"values": [0, 10, 20, 30, 40], "tickSize": 10, "labelPadding": 4, "labelExpr": "join(split(datum.label, ''), '\u2009')", "title": null}}
            },
            "layer": [
              {"transform": [{"filter": "datum.g == 100"}], "mark": {"type": "point", "shape": "circle", "filled": false, "size": 90, "strokeWidth": 1.5, "color": "black", "opacity": 1}},
              {"transform": [{"filter": "datum.g == 1000"}], "mark": {"type": "point", "shape": "M-1,0L1,0M0,-1L0,1M-0.7,-0.7L0.7,0.7M-0.7,0.7L0.7,-0.7", "filled": false, "size": 150, "strokeWidth": 2, "color": "black", "opacity": 1}}
            ]
          }
        ]
      }
    ]
  }
],
"spacing": 10
}
